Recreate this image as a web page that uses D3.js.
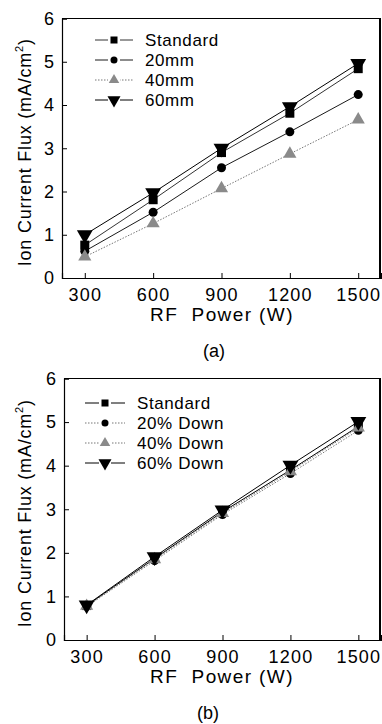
<!DOCTYPE html>
<html>
<head>
<meta charset="utf-8">
<script src="https://cdn.jsdelivr.net/npm/d3@7"></script>
<style>
  body { margin: 0; background: #fff; }
  svg { display: block; }
  text { font-family: "Liberation Sans", Arial, sans-serif; fill: #000; }
</style>
</head>
<body>
<svg id="chart" width="382" height="724"></svg>
<script>
const power = [300, 600, 900, 1200, 1500];
const xTicks = [300, 600, 900, 1200, 1500];
const yTicks = [0, 1, 2, 3, 4, 5, 6];

// panel (a): distance
const namesA = ['Standard', '20mm', '40mm', '60mm'];
const standardA = [0.76, 1.81, 2.9, 3.81, 4.84];
const mm20 = [0.62, 1.52, 2.55, 3.38, 4.24];
const mm40 = [0.49, 1.26, 2.07, 2.87, 3.66];
const mm60 = [1.0, 1.97, 3.0, 3.96, 4.96];

// panel (b): reduction
const namesB = ['Standard', '20% Down', '40% Down', '60% Down'];
const standardB = [0.79, 1.87, 2.94, 3.9, 4.9];
const down20 = [0.77, 1.82, 2.88, 3.82, 4.81];
const down40 = [0.78, 1.85, 2.91, 3.87, 4.87];
const down60 = [0.8, 1.91, 2.98, 4.01, 5.01];

const svg = d3.select('#chart');

function marker(g, type, color, size) {
  if (type === 'square') {
    g.append('rect').attr('x', -size / 2).attr('y', -size / 2)
      .attr('width', size).attr('height', size).attr('fill', color);
  } else if (type === 'circle') {
    g.append('circle').attr('r', size / 2).attr('fill', color);
  } else if (type === 'up') {
    g.append('path').attr('d', d3.symbol(d3.symbolTriangle, size * size * 0.75)()).attr('fill', color);
  } else {
    g.append('path').attr('d', d3.symbol(d3.symbolTriangle, size * size * 0.9)())
      .attr('transform', 'rotate(180)').attr('fill', color);
  }
}

function draw(opt) {
  const x = d3.scaleLinear().domain([200, 1600]).range(opt.xr);
  const y = d3.scaleLinear().domain([0, 6]).range(opt.yr);
  const g = svg.append('g');

  // frame
  g.append('line').attr('x1', opt.xr[0]).attr('x2', opt.xr[1]).attr('y1', opt.yr[1]).attr('y2', opt.yr[1])
    .attr('stroke', '#000').attr('stroke-width', 1);
  g.append('line').attr('x1', opt.xr[1] - 1).attr('x2', opt.xr[1] - 1).attr('y1', opt.yr[1]).attr('y2', opt.yr[0])
    .attr('stroke', '#000').attr('stroke-width', 2);

  const xAxis = g.append('g').attr('transform', `translate(0,${opt.yr[0]})`)
    .call(d3.axisBottom(x).tickValues(xTicks).tickFormat(d3.format('d')).tickSize(-5).tickPadding(10));
  xAxis.select('.domain').attr('stroke-width', 1.2);
  xAxis.selectAll('text').attr('font-size', 18).style('letter-spacing', '1.2px')
    .attr('font-family', '"Liberation Sans", Arial, sans-serif');

  const yAxis = g.append('g').attr('transform', `translate(${opt.xr[0]},0)`)
    .call(d3.axisLeft(y).tickValues(yTicks).tickFormat(d3.format('d')).tickSize(-5).tickPadding(8));
  yAxis.select('.domain').attr('stroke-width', 1.2);
  yAxis.selectAll('text').attr('font-size', 18)
    .attr('font-family', '"Liberation Sans", Arial, sans-serif');

  // axis titles
  g.append('text').attr('x', 222).attr('y', opt.yr[0] + 43).attr('text-anchor', 'middle')
    .attr('font-size', 19).style('letter-spacing', '1.4px').style('white-space', 'pre')
    .text('RF  Power (W)');
  const yt = g.append('text')
    .attr('transform', `translate(31,${(opt.yr[0] + opt.yr[1]) / 2 + 4}) rotate(-90)`)
    .attr('text-anchor', 'middle').attr('font-size', 18).style('letter-spacing', '0.8px');
  yt.append('tspan').text('Ion Current Flux (mA/cm');
  yt.append('tspan').attr('font-size', 11).attr('dy', -8).text('2');
  yt.append('tspan').attr('dy', 8).text(')');

  const line = d3.line().x((d, i) => x(power[i])).y(d => y(d));

  opt.series.forEach(s => {
    g.append('path').datum(s.values).attr('d', line).attr('fill', 'none')
      .attr('stroke', s.color).attr('stroke-width', s.width)
      .attr('stroke-dasharray', s.dash);
    g.selectAll(null).data(s.values).enter().append('g')
      .attr('transform', (d, i) => `translate(${x(power[i])},${y(d)})`)
      .each(function () { marker(d3.select(this), s.shape, s.fill, s.size); });
  });

  // legend
  opt.series.forEach((s, i) => {
    const ly = opt.legY + i * 20;
    g.append('line').attr('x1', opt.legX[0]).attr('x2', opt.legX[1]).attr('y1', ly).attr('y2', ly)
      .attr('stroke', s.color).attr('stroke-width', s.width).attr('stroke-dasharray', s.dash);
    const mg = g.append('g').attr('transform', `translate(${(opt.legX[0] + opt.legX[1]) / 2},${ly})`);
    mg.append('rect').attr('x', -6).attr('y', -5).attr('width', 12).attr('height', 10).attr('fill', '#fff');
    marker(mg, s.shape, s.fill, s.size - 2);
    g.append('text').attr('x', opt.legX[1] + 12).attr('y', ly + 6).attr('font-size', 17)
      .style('letter-spacing', '0.6px').text(opt.names[i]);
  });

  g.append('text').attr('x', opt.cap[0]).attr('y', opt.cap[1]).attr('text-anchor', 'middle')
    .attr('font-size', 18).attr('font-family', '"Liberation Serif", "Times New Roman", serif')
    .text(opt.capText);
}

draw({
  xr: [62, 381], yr: [278, 18.5],
  legX: [95, 133], legY: 40, names: namesA,
  cap: [214, 357], capText: '(a)',
  series: [
    { values: standardA, shape: 'square', fill: '#000', size: 9, color: '#333', width: 1, dash: null },
    { values: mm20, shape: 'circle', fill: '#000', size: 9, color: '#000', width: 0.9, dash: null },
    { values: mm40, shape: 'up', fill: '#8a8a8a', size: 10, color: '#777', width: 1, dash: '1.5,1.5' },
    { values: mm60, shape: 'down', fill: '#000', size: 11, color: '#000', width: 1, dash: null }
  ]
});

draw({
  xr: [64, 381], yr: [640, 378.5],
  legX: [85, 125], legY: 403, names: namesB,
  cap: [208, 719], capText: '(b)',
  series: [
    { values: standardB, shape: 'square', fill: '#000', size: 9, color: '#000', width: 1, dash: null },
    { values: down20, shape: 'circle', fill: '#000', size: 9, color: '#777', width: 1, dash: '1.5,1.5' },
    { values: down40, shape: 'up', fill: '#8a8a8a', size: 10, color: '#777', width: 1, dash: '1.5,1.5' },
    { values: down60, shape: 'down', fill: '#000', size: 11, color: '#000', width: 1, dash: null }
  ]
});
</script>
</body>
</html>
